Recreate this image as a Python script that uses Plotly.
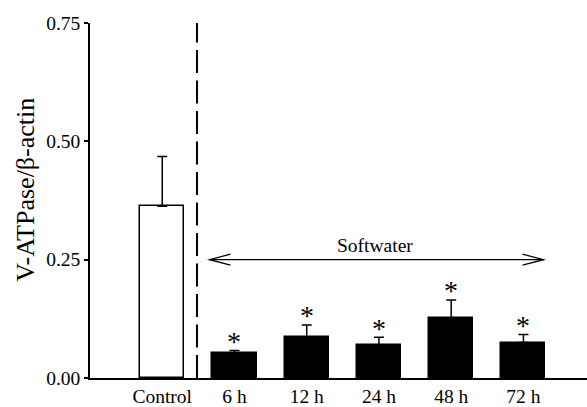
import plotly.graph_objects as go

categories = ["Control", "6 h", "12 h", "24 h", "48 h", "72 h"]
means = [0.363, 0.053, 0.086, 0.070, 0.126, 0.075]
errors = [0.105, 0.005, 0.026, 0.016, 0.039, 0.017]
significant = [False, True, True, True, True, True]
bar_colors = ["white", "black", "black", "black", "black", "black"]
y_ticks = [0.0, 0.25, 0.5, 0.75]
y_ticktext = ["0.00", "0.25", "0.50", "0.75"]
treatment_label = "Softwater"
y_title = "V-ATPase/β-actin"

FONT = "Liberation Serif"
idx = list(range(len(categories)))

fig = go.Figure()
fig.add_trace(go.Bar(
    x=idx, y=means, width=0.61,
    marker=dict(color=bar_colors, line=dict(color="black", width=1.5)),
    error_y=dict(type="data", array=errors, arrayminus=[0] * len(errors),
                 symmetric=False, color="black", thickness=1.5, width=5),
    showlegend=False,
))

# asterisks
for i, (m, e, s) in enumerate(zip(means, errors, significant)):
    if s:
        fig.add_annotation(x=i, y=m + e, text="*", showarrow=False,
                           yanchor="middle", yshift=9,
                           font=dict(family=FONT, size=28, color="black"))

# dashed separator
fig.add_shape(type="line", x0=0.481, x1=0.481, y0=0, y1=0.75,
              line=dict(color="black", width=2, dash="23px,7.5px"))

# double arrow
ax0, ax1, ay = 0.655, 5.278, 0.25
bx, by = 0.29, 0.0116
fig.add_shape(type="line", x0=ax0, x1=ax1, y0=ay, y1=ay,
              line=dict(color="black", width=1.3))
fig.add_shape(type="path",
              path=f"M {ax0+bx},{ay+by} L {ax0},{ay} L {ax0+bx},{ay-by}",
              line=dict(color="black", width=1.3))
fig.add_shape(type="path",
              path=f"M {ax1-bx},{ay+by} L {ax1},{ay} L {ax1-bx},{ay-by}",
              line=dict(color="black", width=1.3))
fig.add_annotation(x=2.945, y=ay, text=treatment_label, showarrow=False,
                   yanchor="bottom", yshift=2,
                   font=dict(family=FONT, size=19.5, color="black"))

# y-axis title
fig.add_annotation(xref="paper", yref="paper", x=0, y=0.53, xshift=-64,
                   xanchor="center", yanchor="middle", textangle=-90,
                   text=y_title, showarrow=False,
                   font=dict(family=FONT, size=26, color="black"))

fig.update_layout(
    width=587, height=407,
    margin=dict(l=90, r=0, t=23, b=29),
    plot_bgcolor="white", paper_bgcolor="white",
    font=dict(family=FONT, size=19.5, color="black"),
    bargap=0,
)
fig.update_xaxes(
    range=[-1, 5.88], tickvals=idx, ticktext=categories,
    showline=True, linecolor="black", linewidth=1.5, ticks="",
    showgrid=False, zeroline=False,
    tickfont=dict(family=FONT, size=19.5, color="black"),
)
fig.update_yaxes(
    range=[0, 0.75], tickvals=y_ticks, ticktext=y_ticktext,
    showline=True, linecolor="black", linewidth=1.5,
    ticks="outside", ticklen=4, tickwidth=1.5, tickcolor="black",
    showgrid=False, zeroline=False,
    tickfont=dict(family=FONT, size=19.5, color="black"),
)

fig.write_html("out.html", config={"displayModeBar": False},
               post_script="document.body.style.margin='0';document.body.style.padding='0';")
